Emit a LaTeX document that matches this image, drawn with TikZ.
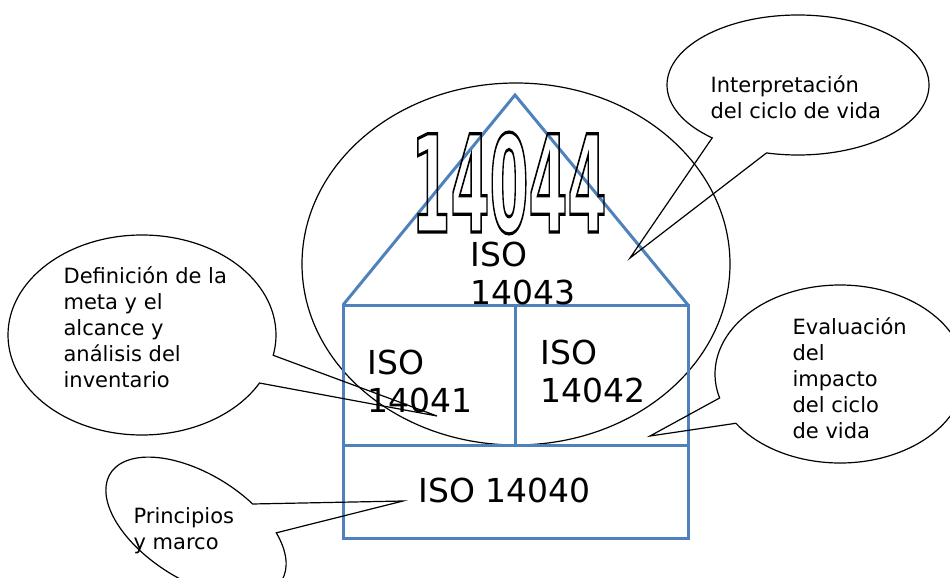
\documentclass[tikz,border=0pt]{standalone}
\usepackage{fontspec}
\setmainfont{DejaVu Sans}
\usepackage{graphicx}
\usetikzlibrary{shapes.geometric,shapes.callouts}
\definecolor{houseblue}{RGB}{79,129,189}
% hollow (outlined) glyphs
\newcommand{\hollow}[1]{\special{pdf:literal direct 1 Tr 2.4 w}#1\special{pdf:literal direct 0 Tr}}

\begin{document}
\begin{tikzpicture}[x=1pt,y=-1pt,line width=1.2pt,
 bubble/.style={draw,ellipse callout,inner sep=0pt,callout pointer arc=#1},
 lbl/.style={anchor=base west,inner sep=0pt,align=left,font=\fontsize{21}{26}\selectfont},
 iso/.style={anchor=base west,inner sep=0pt,align=left,font=\fontsize{33}{38}\selectfont},
 wall/.style={draw=houseblue,line width=3pt}]
\useasboundingbox (0,0) rectangle (950,578);
\clip (0,0) rectangle (950,578);
% big circle
\node[draw,ellipse,inner sep=0pt,minimum width=428pt,minimum height=362pt] (lca) at (516,264) {};
% house
\coordinate (roof) at (515,95);
\coordinate (eaveL) at (343,305);\coordinate (eaveR) at (688,305);
\coordinate (floorL) at (343,538);\coordinate (floorR) at (688,538);
\coordinate (midL) at (343,445);\coordinate (midR) at (688,445);
\coordinate (wallM) at (515,305);\coordinate (floorM) at (515,445);
\draw[wall] (eaveL)--(roof)--(eaveR);
\draw[wall] (eaveL) rectangle (floorR);
\draw[wall] (midL)--(midR);\draw[wall] (wallM)--(floorM);
% big number
\node[inner sep=0pt] (num) at (509,183) {\resizebox{195pt}{100pt}{\hollow{\fontsize{100}{100}\selectfont\bfseries 14044}}};
% standards (base = last line)
\node[iso] (iso43) at (470,304) {ISO\\14043};
\node[iso] (iso41) at (367,412) {ISO\\14041};
\node[iso] (iso42) at (540,402) {ISO\\14042};
\node[iso] (iso40) at (418,502) {ISO 14040};
% pointer tips
\coordinate (p43) at (630,258);
\coordinate (p41) at (437,416);
\coordinate (p42) at (650,436);
\coordinate (p40) at (403,501);
% callouts
\node[bubble=27,minimum width=262pt,minimum height=140pt,callout absolute pointer=(p43)] (interp) at (798,85) {};
\node[bubble=17,minimum width=268pt,minimum height=200pt,callout absolute pointer=(p41)] (defin) at (142,335) {};
\node[bubble=18,minimum width=250pt,minimum height=178pt,callout absolute pointer=(p42)] (evalu) at (840,374) {};
\node[bubble=24,rotate=-32,minimum width=202pt,minimum height=106pt,callout absolute pointer=(p40)] (princ) at (196,527) {};
\node[lbl] (t43) at (710,118) {Interpretación\\del ciclo de vida};
\node[lbl] (t41) at (63,387) {Definición de la\\meta y el\\alcance y\\análisis del\\inventario};
\node[lbl] (t42) at (792,438) {Evaluación\\del\\impacto\\del ciclo\\de vida};
\node[lbl] (t40) at (133,549) {Principios\\y marco};
\end{tikzpicture}
\end{document}
